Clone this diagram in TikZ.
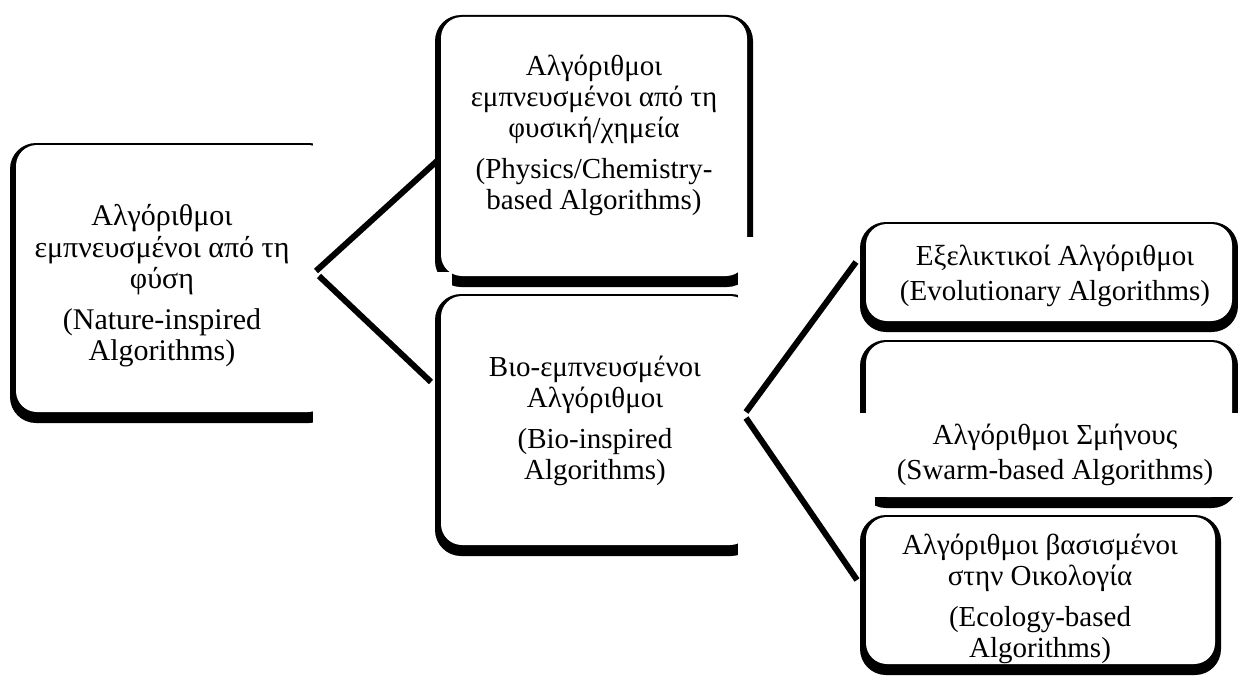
\documentclass[tikz,border=0pt]{standalone}
\usepackage{fontspec}
\setmainfont{Liberation Serif}
\usetikzlibrary{fit}
\tikzset{
  txt/.style={font=\fontsize{29}{31}\selectfont, align=center, inner sep=0pt, text=black},
  txtbig/.style={font=\fontsize{30}{31.5}\selectfont, align=center, inner sep=0pt, text=black},
  conn/.style={line width=6pt, black},
  maskrect/.style={fill=white, draw=none},
  inner/.style={inner sep=0pt, fill=white, draw=none, rounded corners=21pt},
}
\newcommand\shbox[5]{%
  \fill[black, rounded corners=26pt] (#2,#3) rectangle (#4,#5);
  \node[inner, fit={(#2+6,#3+2) (#4-6,#5-11)}] (#1) {};
}
\begin{document}
\begin{tikzpicture}[x=1pt,y=-1pt]
  \useasboundingbox (0,0) rectangle (1238,677);
  \fill[white] (0,0) rectangle (1238,677);
  % boxes
  \shbox{A}{10}{143}{335}{423}
  \shbox{P}{435}{15}{753}{287}
  \shbox{B}{435}{294}{757}{556}
  \shbox{E}{860}{222}{1238}{332}
  \shbox{S}{860}{340}{1238}{508}
  \shbox{C}{860}{515}{1221}{675}
  % cut-outs of the picture
  \fill[maskrect] (313,130) rectangle (350,432);
  \fill[maskrect] (425,272) rectangle (452,291);
  \fill[maskrect] (738,237) rectangle (770,566);
  \fill[maskrect] (855,413) rectangle (1238,497);
  \fill[maskrect] (855,497) rectangle (875,512);
  % connector ends
  \coordinate (a1) at (316,271);
  \coordinate (a2) at (319,276);
  \coordinate (p1) at (437,161);
  \coordinate (b1) at (431,382);
  \coordinate (b2) at (746,412);
  \coordinate (b3) at (746,418);
  \coordinate (e1) at (856,262);
  \coordinate (c1) at (857,580);
  \draw[conn] (a1) -- (p1);
  \draw[conn] (a2) -- (b1);
  \draw[conn] (b2) -- (e1);
  \draw[conn] (b3) -- (c1);
  % texts
  \node[txtbig] (At) at (162,286) {Αλγόριθμοι\\εμπνευσμένοι από τη\\φύση\\[9pt](Nature-inspired\\Algorithms)};
  \node[txt] (Pt) at (594,135) {Αλγόριθμοι\\εμπνευσμένοι από τη\\φυσική/χημεία\\[10pt](Physics/Chemistry-\\based Algorithms)};
  \node[txt] (Bt) at (595,421) {Βιο-εμπνευσμένοι\\Αλγόριθμοι\\[10pt](Bio-inspired\\Algorithms)};
  \node[txt] (Et) at (1055,276) {Εξελικτικοί Αλγόριθμοι\\[4pt](Evolutionary Algorithms)};
  \node[txt] (St) at (1055,455) {Αλγόριθμοι Σμήνους\\[4pt](Swarm-based Algorithms)};
  \node[txt] (Ct) at (1040,599) {Αλγόριθμοι βασισμένοι\\στην Οικολογία\\[10pt](Ecology-based\\Algorithms)};
\end{tikzpicture}
\end{document}
